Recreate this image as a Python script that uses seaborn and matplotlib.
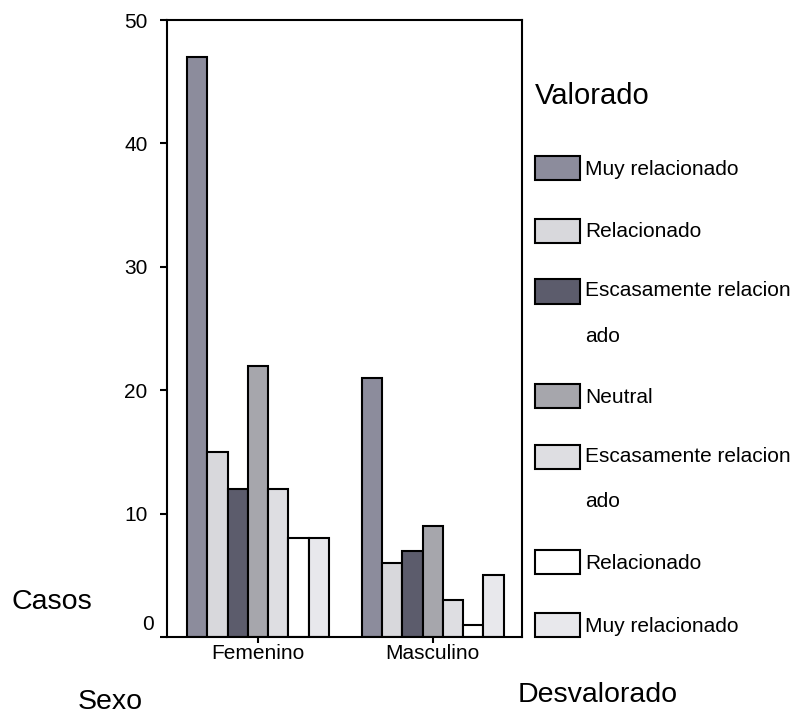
import numpy as np
import pandas as pd
import matplotlib
matplotlib.use("Agg")
import matplotlib.pyplot as plt
import matplotlib.transforms as mtransforms
import seaborn as sns
from matplotlib.patches import Rectangle
from matplotlib.legend_handler import HandlerPatch

# Data

sexo = ["Femenino", "Masculino"]
codigos = ["V3", "V2", "V1", "N", "D1", "D2", "D3"]
etiquetas = ["Muy relacionado", "Relacionado", "Escasamente relacion\nado", "Neutral",
             "Escasamente relacion\nado", "Relacionado", "Muy relacionado"]
femenino = [47, 15, 12, 22, 12, 8, 8]
masculino = [21, 6, 7, 9, 3, 1, 5]
colores = ["#8c8c9c", "#d8d8dc", "#5c5c6c", "#a6a6ac", "#dedee2", "#ffffff", "#e8e8ec"]

df = pd.DataFrame({
    "Sexo": np.repeat(sexo, len(codigos)),
    "Grupo": codigos * len(sexo),
    "Casos": femenino + masculino,
})

sns.set_style("ticks")
plt.rcParams['font.family'] = ['Liberation Sans', 'DejaVu Sans']
plt.rcParams['text.color'] = 'black'
plt.rcParams['axes.labelcolor'] = 'black'


class HandlerTop(HandlerPatch):
    # swatch next to the first line of a wrapped label
    def __init__(self, shift=0.0, **kw):
        super().__init__(**kw)
        self.shift = shift

    def create_artists(self, legend, orig_handle, xdescent, ydescent, width, height, fontsize, trans):
        p = Rectangle((-xdescent, -ydescent + self.shift), width, height)
        self.update_prop(p, orig_handle, legend)
        p.set_transform(trans)
        return [p]


fig = plt.figure(figsize=(8.06, 7.2), dpi=100)
ax = fig.add_axes([167 / 806, 1 - 637 / 720, 355 / 806, 617 / 720])

sns.barplot(data=df, x="Sexo", y="Casos", hue="Grupo", hue_order=codigos, order=sexo,
            palette=colores, saturation=1, width=0.81, edgecolor="black", linewidth=1.5,
            legend=False, ax=ax)

ax.set_xlim(-0.52, 1.51)
ax.set_ylim(0, 50)
ax.set_yticks([0, 10, 20, 30, 40, 50])
for s in ax.spines.values():
    s.set_visible(True)
    s.set_linewidth(1.5)
    s.set_color("black")
ax.tick_params(axis="y", labelsize=15, length=5, width=1.5, pad=9, colors="black")
ax.tick_params(axis="x", labelsize=15, length=4, width=1.5, pad=1, colors="black")

# the "0" label sits a little higher in the original
lab0 = ax.get_yticklabels()[0]
lab0.set_transform(lab0.get_transform() + mtransforms.ScaledTranslation(0.06, 0.14, fig.dpi_scale_trans))

ax.set_ylabel("Casos", rotation=0, fontsize=20.5, ha="center", va="center")
ax.yaxis.set_label_coords(-0.324, 0.057)
ax.set_xlabel("Sexo", fontsize=20.5, ha="center", va="center")
ax.xaxis.set_label_coords(-0.161, -0.105)
fig.text(598 / 806, 1 - 695 / 720, "Desvalorado", fontsize=20.5, ha="center", va="center")

handles = [c.patches[0] for c in ax.containers]
hmap = {}
for h, lab in zip(handles, etiquetas):
    hmap[h] = HandlerTop(shift=16.2 if "\n" in lab else 0.0)

leg = ax.legend(handles, etiquetas, handler_map=hmap, loc="upper left",
                bbox_to_anchor=(535 / 806, 1 - 82 / 720), bbox_transform=fig.transFigure,
                frameon=False, fontsize=15, title="Valorado", title_fontsize=21,
                alignment="left", handlelength=2.16, handleheight=1.4, handletextpad=0.25,
                labelspacing=1.86, borderpad=0, borderaxespad=0, labelcolor="black")
for t in leg.get_texts():
    t.set_linespacing(2.75)
leg.get_title().set_color("black")
# a bit more room under the title
leg._legend_box.sep = 1.86 * 15 + 5

fig.savefig("out.png", dpi=100)
